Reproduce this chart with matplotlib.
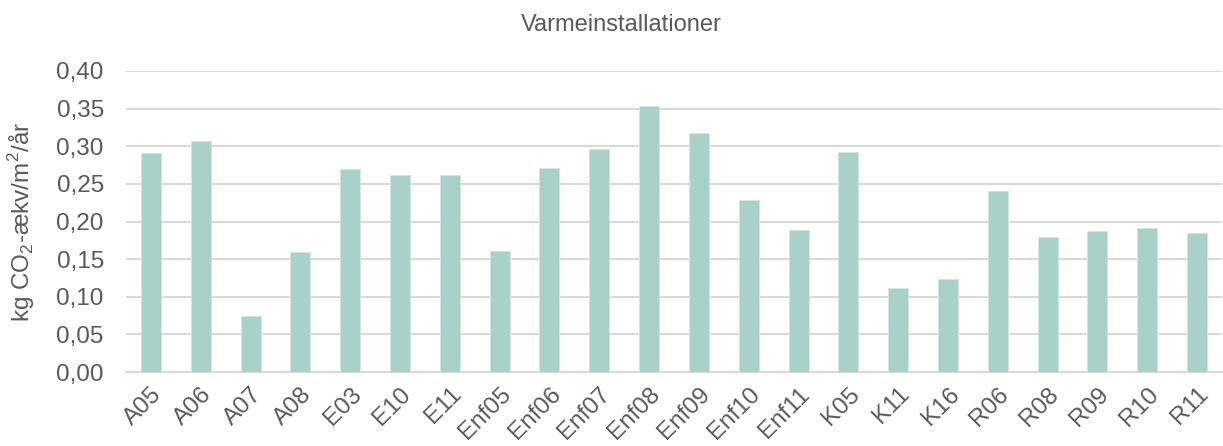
import matplotlib
matplotlib.use("Agg")
import matplotlib.pyplot as plt

plt.rcParams['font.family'] = ['Liberation Sans', 'DejaVu Sans']
plt.rcParams['mathtext.fontset'] = 'custom'
plt.rcParams['mathtext.rm'] = 'Liberation Sans'

categories = ["A05", "A06", "A07", "A08", "E03", "E10", "E11", "Enf05", "Enf06",
              "Enf07", "Enf08", "Enf09", "Enf10", "Enf11", "K05", "K11", "K16",
              "R06", "R08", "R09", "R10", "R11"]
values = [0.291, 0.307, 0.074, 0.160, 0.270, 0.262, 0.262, 0.161, 0.271,
          0.297, 0.354, 0.317, 0.229, 0.189, 0.293, 0.112, 0.124,
          0.241, 0.180, 0.188, 0.191, 0.185]
yticks = [0.00, 0.05, 0.10, 0.15, 0.20, 0.25, 0.30, 0.35, 0.40]

text_col = '#595959'
grid_col = '#D9D9D9'
bar_col = '#A8D1C7'

fig = plt.figure(figsize=(12.23, 4.46), dpi=100)
ax = fig.add_axes([126/1223, 74/446, (1222-126)/1223, (372-71)/446])

x = list(range(len(categories)))
ax.bar(x, values, width=0.4, color=bar_col, edgecolor='#D2E8E2', linewidth=0.6, zorder=3)

ax.set_xlim(-0.5, len(categories) - 0.5)
ax.set_ylim(0, 0.40)
ax.set_yticks(yticks)
ax.set_yticklabels([f"{v:.2f}".replace('.', ',') for v in yticks])
ax.set_xticks(x)
ax.set_xticklabels(categories, rotation=45, ha='right', va='top', rotation_mode='anchor')

ax.grid(axis='y', color=grid_col, linewidth=1.5, zorder=0)
for s in ['top', 'right', 'left']:
    ax.spines[s].set_visible(False)
ax.spines['bottom'].set_color(grid_col)
ax.spines['bottom'].set_linewidth(1.5)
ax.tick_params(axis='both', length=0, labelsize=17.5, labelcolor=text_col)
ax.tick_params(axis='y', pad=16)
ax.tick_params(axis='x', pad=8)

ax.set_ylabel('kg CO$_\\mathregular{2}$-ækv/m$^\\mathregular{2}$/år', fontsize=17.5,
              color=text_col, labelpad=14)
fig.text(0.508, 1 - 25/446, 'Varmeinstallationer', ha='center', va='center',
         fontsize=17, color=text_col)

fig.savefig('out.png', dpi=100)
